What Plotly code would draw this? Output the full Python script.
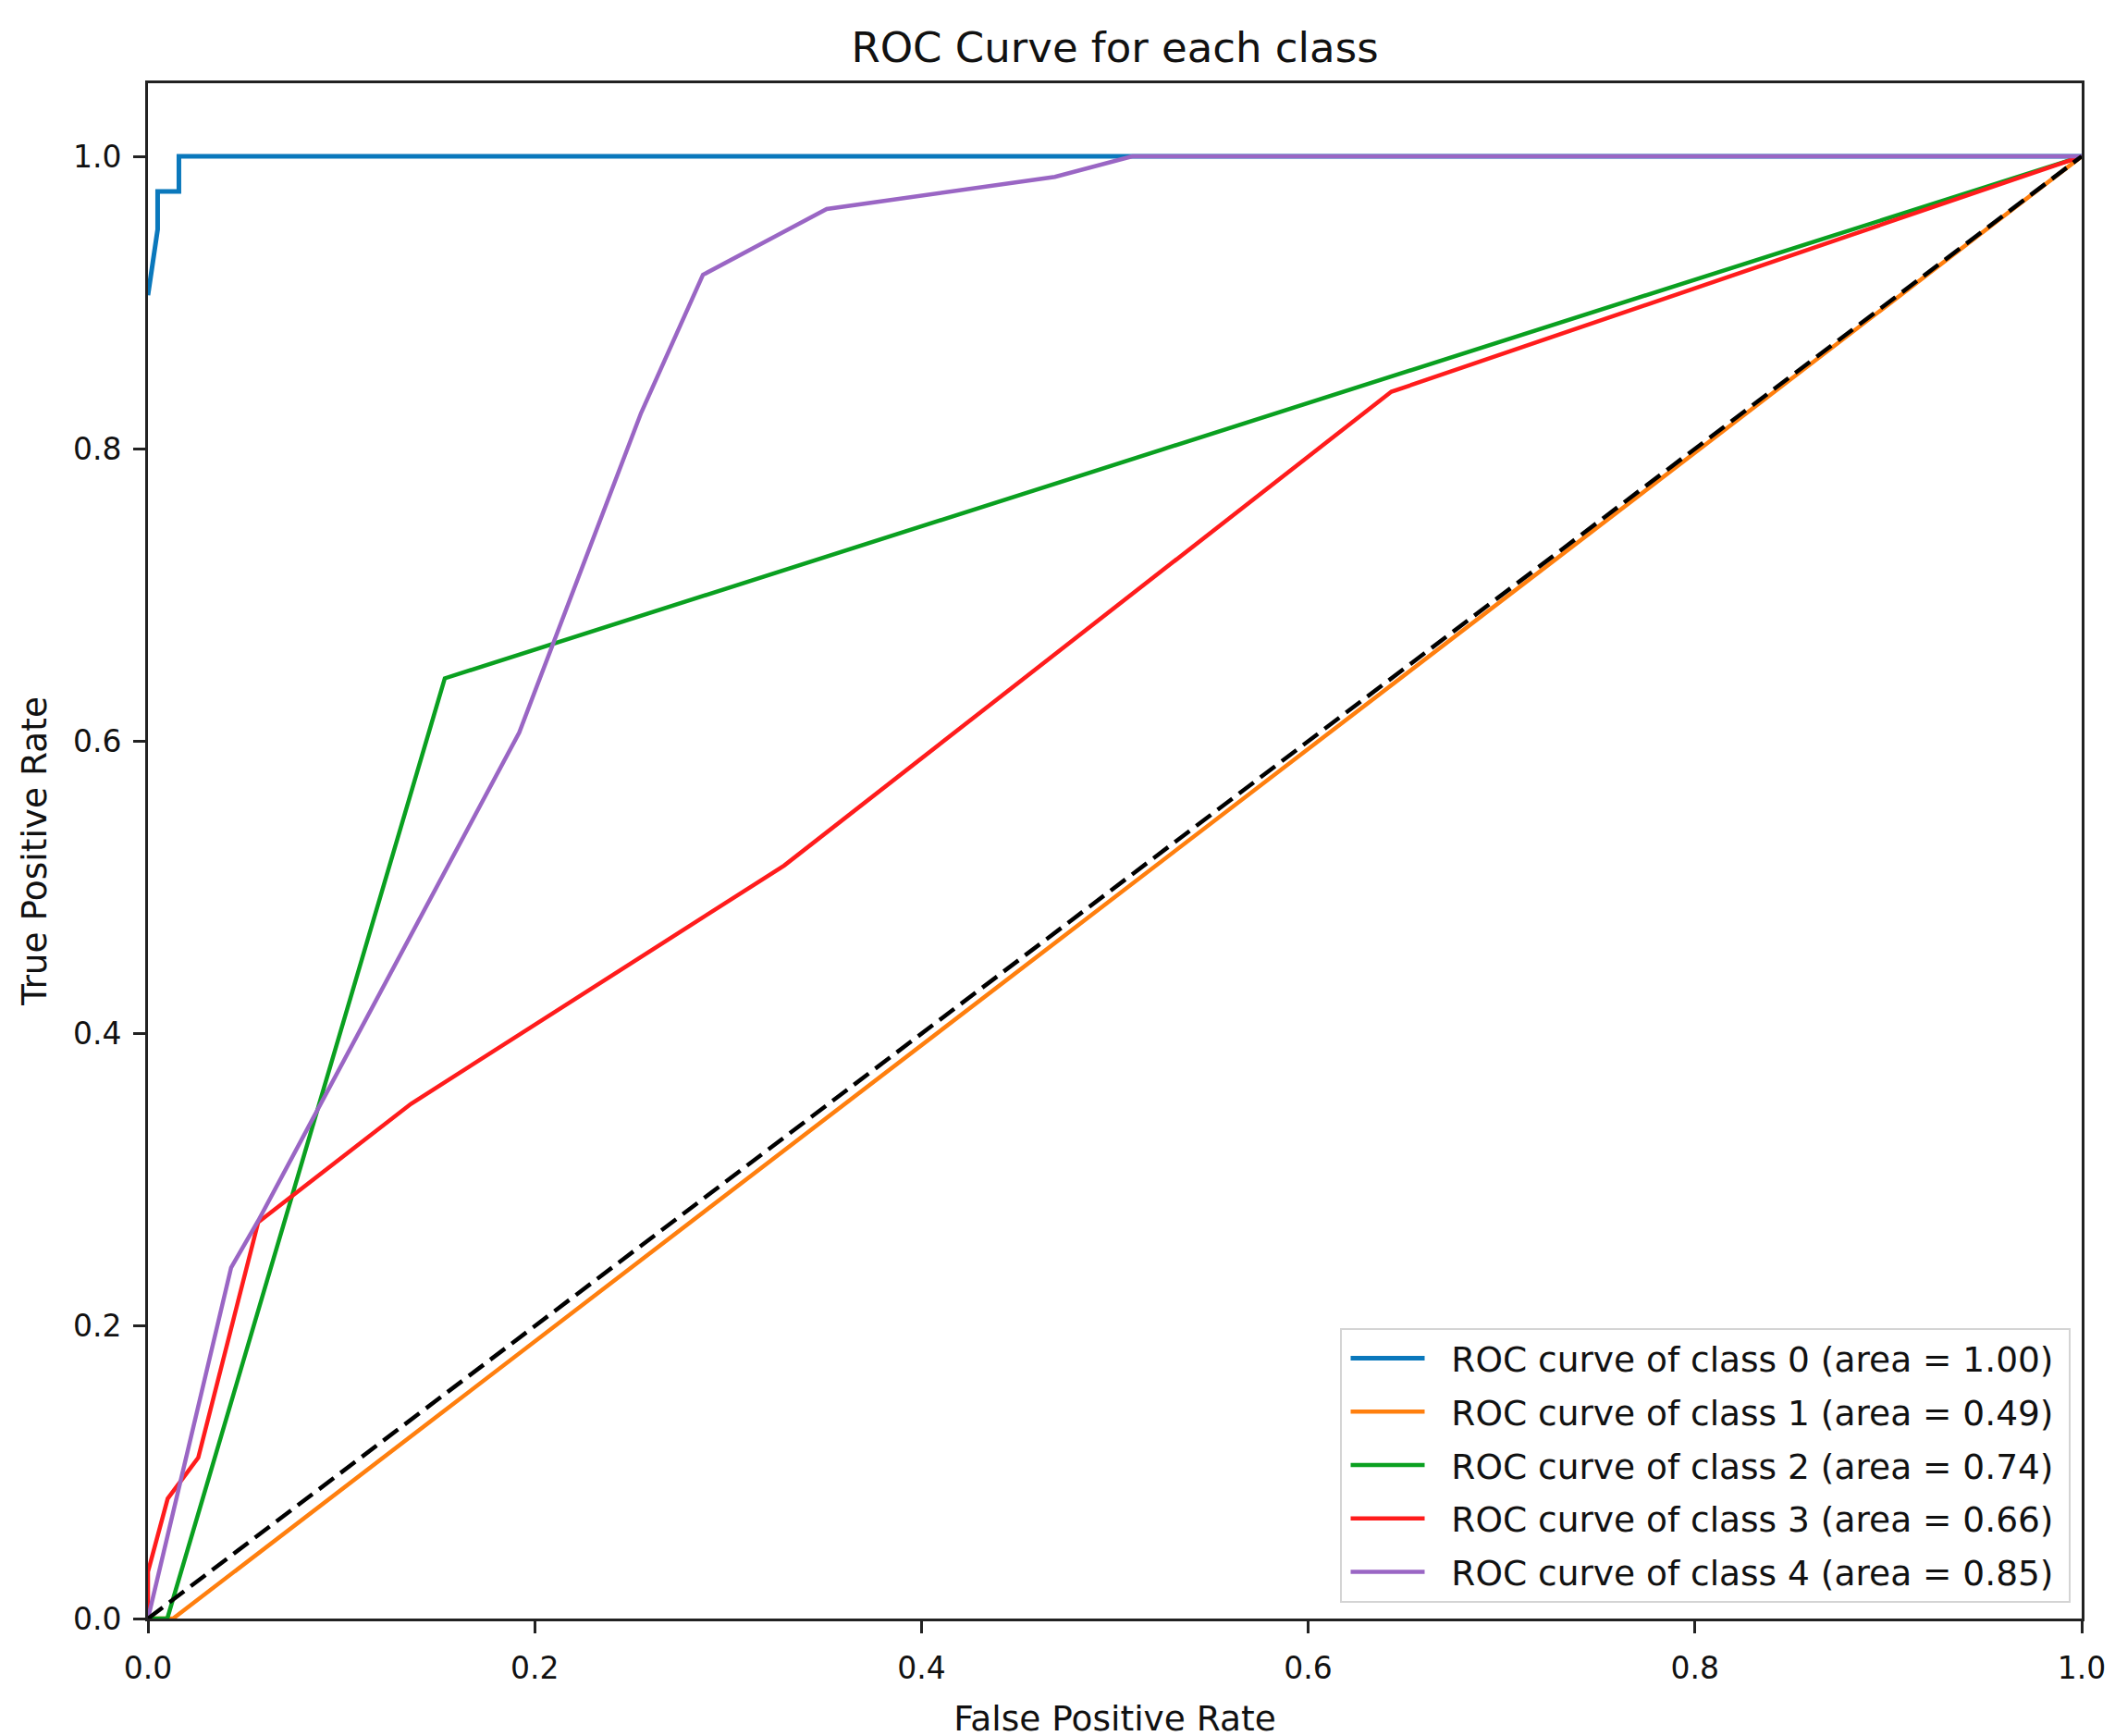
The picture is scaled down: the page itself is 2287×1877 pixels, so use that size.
import plotly.graph_objects as go

# ---- data ----
class_names = ["ROC curve of class 0 (area = 1.00)",
               "ROC curve of class 1 (area = 0.49)",
               "ROC curve of class 2 (area = 0.74)",
               "ROC curve of class 3 (area = 0.66)",
               "ROC curve of class 4 (area = 0.85)"]

fpr0 = [0.0, 0.005, 0.005, 0.016, 0.016, 1.0]
tpr0 = [0.905, 0.95, 0.976, 0.976, 1.0, 1.0]

fpr1 = [0.0, 0.013, 1.0]
tpr1 = [0.0, 0.0, 1.0]

fpr2 = [0.0, 0.010, 0.1535, 1.0]
tpr2 = [0.0, 0.0, 0.643, 1.0]

fpr3 = [0.0, 0.0, 0.0102, 0.026, 0.057, 0.136, 0.329, 0.643, 1.0]
tpr3 = [0.0, 0.032, 0.082, 0.110, 0.271, 0.352, 0.515, 0.839, 1.0]

fpr4 = [0.0, 0.043, 0.057, 0.192, 0.255, 0.287, 0.351, 0.469, 0.509, 1.0]
tpr4 = [0.0, 0.240, 0.272, 0.606, 0.8245, 0.919, 0.964, 0.986, 1.0, 1.0]

chance_x = [0.0, 1.0]
chance_y = [0.0, 1.0]

tick_vals = [0.0, 0.2, 0.4, 0.6, 0.8, 1.0]

colors = ["#0a78bc", "#ff7f0e", "#0aa020", "#ff1c1c", "#9a66c4"]
widths = [5, 4.5, 4.5, 4.5, 4.5]

FONT = "DejaVu Sans"
NB = "\u00a0"

fig = go.Figure()
series = [(fpr0, tpr0), (fpr1, tpr1), (fpr2, tpr2), (fpr3, tpr3), (fpr4, tpr4)]
for i, (fx, ty) in enumerate(series):
    fig.add_trace(go.Scatter(x=fx, y=ty, mode="lines", name=NB * 2 + class_names[i] + NB,
                             legendgroup=f"g{i}",
                             line=dict(color=colors[i], width=widths[i])))
fig.add_trace(go.Scatter(x=chance_x, y=chance_y, mode="lines", showlegend=False,
                         line=dict(color="black", width=4.5, dash="20px,9px")))

axis_common = dict(showline=True, linecolor="#222222", linewidth=3, mirror=True,
                   ticks="outside", ticklen=13, tickwidth=3, tickcolor="#222222",
                   showgrid=False, zeroline=False, tickvals=tick_vals,
                   tickformat=".1f", automargin=False, layer="above traces",
                   tickfont=dict(family=FONT, size=33, color="#111111"),
                   title_font=dict(family=FONT, size=37.5, color="#111111"))

fig.update_xaxes(range=[0, 1], title_text="False Positive Rate", title_standoff=24,
                 ticklabelstandoff=9, **axis_common)
fig.update_yaxes(range=[0, 1.05], title_text="True Positive Rate", title_standoff=17,
                 ticklabelstandoff=6, **axis_common)

# the page adds an 8px body margin, so margins are offset by it
fig.update_layout(
    width=2287, height=1877,
    margin=dict(l=152, r=44, t=82, b=135),
    plot_bgcolor="white", paper_bgcolor="white",
    title=dict(text="ROC Curve for each class", x=0.5, xref="paper", xanchor="center",
               y=1 - 43 / 1877, yref="container", yanchor="middle",
               font=dict(family=FONT, size=45, color="#111111")),
    legend=dict(x=0.9945, y=0.0105, xanchor="right", yanchor="bottom",
                bgcolor="rgba(255,255,255,0.85)", bordercolor="#d4d4d4", borderwidth=2,
                font=dict(family=FONT, size=37.5, color="#111111"),
                tracegroupgap=6, itemwidth=80, indentation=4),
)

fig.write_html("out.html")
